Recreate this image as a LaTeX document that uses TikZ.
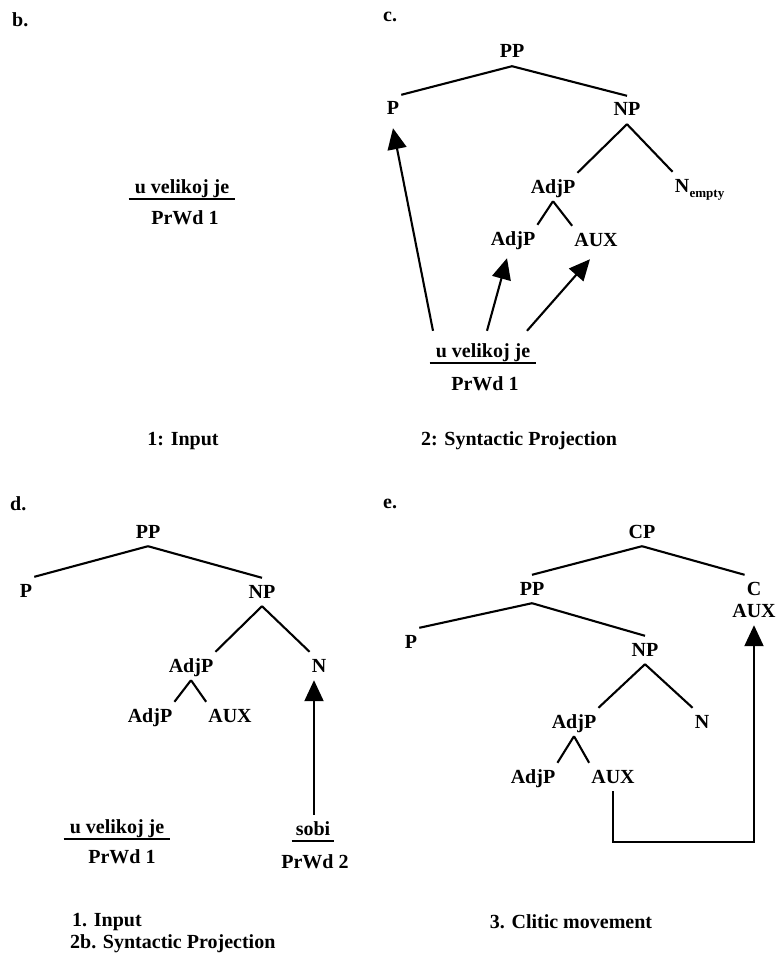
\documentclass[tikz,border=0pt]{standalone}
\usepackage{fontspec}
\setmainfont{Liberation Serif}
\usetikzlibrary{arrows.meta}
\tikzset{
  cat/.style={anchor=base,inner xsep=2pt,inner ysep=4pt,text height=16pt,text depth=4pt},
  word/.style={cat,inner xsep=6pt},
  txt/.style={anchor=base,inner sep=0pt},
  branch/.style={line width=2.1pt},
  uline/.style={line width=1.6pt},
  proj/.style={line width=2.1pt,-{Triangle[length=21pt,width=19pt]}}
}
\begin{document}
\begin{tikzpicture}[x=1pt,y=-1pt,font=\fontsize{20}{24}\selectfont\bfseries]
\useasboundingbox (0,0) rectangle (776,971);
\node[txt,anchor=base west] (bLab) at (12,27) {b.};
\node[txt,anchor=base west] (cLab) at (383,22) {c.};
\node[txt,anchor=base west] (dLab) at (10,510) {d.};
\node[txt,anchor=base west] (eLab) at (383,508) {e.};
\node[word] (bWord) at (182,193) {u velikoj je};
\node[cat] (bPrWd) at (185,224) {PrWd 1};
\draw[uline] ([yshift=2pt]bWord.south west) -- ([yshift=2pt]bWord.south east);
\node[txt] (bCap) at (183,445) {1: Input};
\node[cat] (cPP) at (512,58) {PP};
\node[cat] (cP) at (393,115) {P};
\node[cat] (cNP) at (627,116) {NP};
\node[cat] (cAdjP) at (553,193) {AdjP};
\node[cat] (cN) at (682,192) {N};
\node[txt,anchor=base west,font=\fontsize{13}{13}\selectfont\bfseries] (cSub) at ([xshift=-2pt,yshift=-5pt]cN.base east) {empty};
\node[cat] (cAdjPl) at (513,245) {AdjP};
\node[cat] (cAUX) at (596,246) {AUX};
\foreach \p/\q/\s in {cPP/cP/north east,cPP/cNP/north,cNP/cAdjP/north east,cNP/cN/north west,cAdjP/cAdjPl/north east,cAdjP/cAUX/north west}
  \draw[branch] (\p.south) -- (\q.\s);
\node[word] (cWord) at (483,357) {u velikoj je};
\node[cat] (cPrWd) at (485,390) {PrWd 1};
\draw[uline] ([yshift=2pt]cWord.south west) -- ([yshift=2pt]cWord.south east);
\draw[proj] ([xshift=-50pt,yshift=6pt]cWord.north) -- ([yshift=-5pt]cP.south);
\draw[proj] ([xshift=4pt,yshift=6pt]cWord.north) -- ([xshift=-6pt,yshift=-5pt]cAdjPl.south);
\draw[proj] ([xshift=44pt,yshift=6pt]cWord.north) -- ([xshift=-6pt,yshift=-5pt]cAUX.south);
\node[txt] (cCap) at (519,445) {2: Syntactic Projection};
\node[cat] (dPP) at (148,538) {PP};
\node[cat] (dP) at (26,597) {P};
\node[cat] (dNP) at (262,598) {NP};
\node[cat] (dAdjP) at (191,672) {AdjP};
\node[cat] (dN) at (319,672) {N};
\node[cat] (dAdjPl) at (150,722) {AdjP};
\node[cat] (dAUX) at (230,722) {AUX};
\foreach \p/\q/\s in {dPP/dP/north east,dPP/dNP/north,dNP/dAdjP/north east,dNP/dN/north west,dAdjP/dAdjPl/north east,dAdjP/dAUX/north west}
  \draw[branch] (\p.south) -- (\q.\s);
\node[word] (dWord) at (117,833) {u velikoj je};
\node[cat] (dPrWd) at (122,863) {PrWd 1};
\draw[uline] ([yshift=2pt]dWord.south west) -- ([yshift=2pt]dWord.south east);
\node[word,inner xsep=4pt] (dSobi) at (313,835) {sobi};
\node[cat] (dPrWdb) at (315,868) {PrWd 2};
\draw[uline] ([yshift=2pt]dSobi.south west) -- ([yshift=2pt]dSobi.south east);
\draw[proj] ([xshift=1pt]dSobi.north) -- ([xshift=1pt]dSobi.north |- dN.south);
\node[txt,anchor=base west] (dCapa) at (72,926) {1. Input};
\node[txt,anchor=base west] (dCapb) at (70,948) {2b. Syntactic Projection};
\node[cat] (eCP) at (642,538) {CP};
\node[cat] (ePP) at (532,595) {PP};
\node[cat] (eC) at (754,595) {C};
\node[cat] (eAUXc) at (754,617) {AUX};
\node[cat] (eP) at (411,648) {P};
\node[cat] (eNP) at (645,656) {NP};
\node[cat] (eAdjP) at (574,728) {AdjP};
\node[cat] (eN) at (702,728) {N};
\node[cat] (eAdjPl) at (533,783) {AdjP};
\node[cat] (eAUX) at (613,783) {AUX};
\foreach \p/\q/\s in {eCP/ePP/north,eCP/eC/north west,ePP/eP/north east,ePP/eNP/north,eNP/eAdjP/north east,eNP/eN/north west,eAdjP/eAdjPl/north east,eAdjP/eAUX/north west}
  \draw[branch] (\p.south) -- (\q.\s);
\draw[proj] (eAUX.south) -- ++(0,51) -| (eAUXc.south);
\node[txt] (eCap) at (571,928) {3. Clitic movement};
\end{tikzpicture}
\end{document}
